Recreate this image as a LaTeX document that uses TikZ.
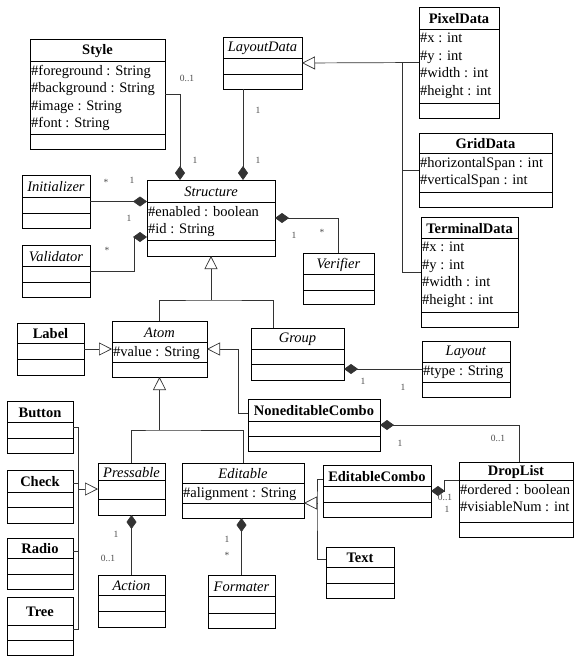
\documentclass[tikz,border=0pt]{standalone}
\usepackage{fontspec}
\setmainfont{Liberation Serif}
\usetikzlibrary{arrows.meta,calc}

\tikzset{
	classbox/.style={draw, line width=0.8pt, inner sep=0pt, outer sep=0pt},
	classtitle/.style={inner sep=0pt, yshift=-1pt, font=\fontsize{14.5}{17.5}\selectfont},
	attrtext/.style={inner xsep=1pt, inner ysep=4pt, align=left, font=\fontsize{14.5}{17.5}\selectfont},
	mult/.style={inner sep=0pt, text=black!70, font=\fontsize{9.5}{10}\selectfont},
	link/.style={draw=black!80, line width=0.7pt},
	gen/.style={link, -{Triangle[open, length=13pt, width=13pt, fill=white]}},
	comp/.style={link, -{Diamond[length=14pt, width=10pt, fill=black!80]}},
}

% class box: name, x, y, width, title/attribute/operation heights, title, attributes
\newcommand{\umlclass}[9]{%
	\node[classbox, minimum width=#4pt, minimum height={(#5+#6+#7)*1pt}, anchor=north west] (#1) at (#2,#3) {};
	\draw[line width=0.8pt] (#1.north west) ++(0,#5) -- ++(#4,0);
	\draw[line width=0.8pt] (#1.north west) ++(0,#5+#6) -- ++(#4,0);
	\node[classtitle] (#1-title) at ($(#1.north)+(0,#5/2)$) {#8};
	\node[attrtext, anchor=north west] (#1-attr) at ($(#1.north west)+(0,#5)$) {#9};
}

\begin{document}
\begin{tikzpicture}[x=1pt,y=-1pt]
	\useasboundingbox (0,0) rectangle (579,658);

	\umlclass{style}{30}{39}{135}{22}{73}{15}{\textbf{Style}}{\#foreground : String\\\#background : String\\\#image : String\\\#font : String}
	\umlclass{layoutdata}{223}{37}{79}{21}{16}{15}{\textit{LayoutData}}{}
	\umlclass{pixeldata}{419}{7}{80}{22}{74}{15}{\textbf{PixelData}}{\#x : int\\\#y : int\\\#width : int\\\#height : int}
	\umlclass{griddata}{419}{133}{133}{20}{39}{15}{\textbf{GridData}}{\#horizontalSpan : int\\\#verticalSpan : int}
	\umlclass{terminaldata}{421}{217}{97}{21}{74}{15}{\textbf{TerminalData}}{\#x : int\\\#y : int\\\#width : int\\\#height : int}
	\umlclass{structure}{147}{180}{128}{22}{38}{16}{\textit{Structure}}{\#enabled : boolean\\\#id : String}
	\umlclass{initializer}{22}{175}{68}{22}{16}{15}{\textit{Initializer}}{}
	\umlclass{validator}{22}{245}{68}{21}{16}{15}{\textit{Validator}}{}
	\umlclass{verifier}{303}{253}{71}{21}{16}{14}{\textit{Verifier}}{}
	\umlclass{atom}{112}{321}{95}{21}{20}{15}{\textit{Atom}}{\#value : String}
	\umlclass{lbl}{17}{323}{67}{20}{16}{16}{\textbf{Label}}{}
	\umlclass{group}{251}{328}{93}{21}{15}{16}{\textit{Group}}{}
	\umlclass{layout}{422}{341}{88}{21}{20}{15}{\textit{Layout}}{\#type : String}
	\umlclass{noneditable}{248}{399}{132}{22}{15}{15}{\textbf{NoneditableCombo}}{}
	\umlclass{droplist}{459}{462}{114}{18}{42}{15}{\textbf{DropList}}{\#ordered : boolean\\\#visiableNum : int}
	\umlclass{button}{7}{401}{66}{21}{16}{15}{\textbf{Button}}{}
	\umlclass{check}{7}{470}{66}{22}{15}{16}{\textbf{Check}}{}
	\umlclass{radio}{7}{538}{66}{20}{16}{15}{\textbf{Radio}}{}
	\umlclass{tree}{7}{597}{66}{28}{15}{15}{\textbf{Tree}}{}
	\umlclass{pressable}{98}{463}{67}{17}{19}{16}{\textit{Pressable}}{}
	\umlclass{editable}{182}{463}{122}{20}{20}{15}{\textit{Editable}}{\#alignment : String}
	\umlclass{editablecombo}{323}{465}{108}{21}{16}{15}{\textbf{EditableCombo}}{}
	\umlclass{txt}{326}{547}{68}{20}{16}{15}{\textbf{Text}}{}
	\umlclass{action}{98}{575}{67}{20}{16}{16}{\textit{Action}}{}
	\umlclass{formater}{208}{575}{67}{21}{17}{15}{\textit{Formater}}{}

	% Style, LayoutData -> Structure
	\coordinate (st-n1) at ($(structure.north west)+(33,0)$);
	\coordinate (st-n2) at ($(structure.north west)+(96,0)$);
	\draw[comp] (style.east) -| (st-n1);
	\draw[comp] (st-n2 |- layoutdata.south) -- (st-n2);

	% LayoutData hierarchy
	\coordinate (ldbus) at ($(pixeldata.west)+(-17,0)$);
	\draw[gen] (pixeldata.west) -- (layoutdata.east);
	\draw[link] (griddata.west) -| (ldbus);
	\draw[link] (terminaldata.west) -| (ldbus);

	% Initializer, Validator, Verifier
	\coordinate (st-w) at ($(structure.south west)+(0,-19)$);
	\draw[comp] (initializer.east) -- (initializer.east -| structure.west);
	\draw[comp] (validator.east) -- ++(44,0) |- (st-w);
	\draw[comp] (verifier.north) |- (structure.east);

	% Structure subclasses
	\coordinate (st-join) at ($(structure.south)+(0,44)$);
	\coordinate (gr-n) at ($(group.north west)+(22,0)$);
	\draw[link] (atom.north) |- (st-join) -| (gr-n);
	\draw[gen] (st-join) -- (structure.south);

	\draw[gen] (lbl.east) -- (atom.west);
	\draw[comp] (layout.west) -- (layout.west -| group.east);

	\coordinate (nc-w) at ($(noneditable.north west)+(0,14)$);
	\coordinate (dl-n) at ($(droplist.north west)+(60,0)$);
	\draw[gen] (nc-w) -- ++(-10,0) |- (atom.east);
	\draw[comp] (dl-n) |- (noneditable.east);

	% Atom subclasses
	\coordinate (at-join) at ($(atom.south)+(0,53)$);
	\draw[link] (pressable.north) |- (at-join) -| (editable.north);
	\draw[gen] (at-join) -- (atom.south);

	\draw[comp] (action.north) -- (pressable.south);
	\draw[comp] (formater.north) -- (formater.north |- editable.south);

	% Button, Check, Radio, Tree -> Pressable
	\coordinate (pbus) at ($(pressable.west)+(-20,0)$);
	\coordinate (ck-e) at ($(check.north east)+(0,13)$);
	\coordinate (rd-e) at ($(radio.north east)+(0,13)$);
	\coordinate (tr-e) at ($(tree.north east)+(0,32)$);
	\draw[link] (button.east) -| (pbus |- tr-e) -- (tr-e);
	\draw[link] (ck-e) -- (ck-e -| pbus);
	\draw[link] (rd-e) -- (rd-e -| pbus);
	\draw[gen] (pbus) -- (pressable.west);

	% EditableCombo, Text -> Editable
	\coordinate (ed-e) at ($(editable.south east)+(0,-15)$);
	\coordinate (ebus) at ($(ed-e)+(13,0)$);
	\coordinate (ec-w) at ($(editablecombo.north west)+(0,14)$);
	\coordinate (tx-w) at ($(txt.north west)+(0,12)$);
	\draw[link] (ec-w) -| (ebus) |- (tx-w);
	\draw[gen] (ebus) -- (ed-e);

	\coordinate (dl-w) at ($(droplist.north west)+(0,18)$);
	\draw[comp] (dl-w) -- ++(-15,0) |- (editablecombo.east);

	% multiplicities
	\node[mult] (m-style-a) at (187,78) {0..1};
	\node[mult] (m-style-b) at (195,160) {1};
	\node[mult] (m-ld-a) at (258,110) {1};
	\node[mult] (m-ld-b) at (258,160) {1};
	\node[mult] (m-init-a) at (106,182) {*};
	\node[mult] (m-init-b) at (132,180) {1};
	\node[mult] (m-val-a) at (129,218) {1};
	\node[mult] (m-val-b) at (107,250) {*};
	\node[mult] (m-ver-a) at (294,235) {1};
	\node[mult] (m-ver-b) at (322,232) {*};
	\node[mult] (m-lay-a) at (363,381) {1};
	\node[mult] (m-lay-b) at (403,387) {1};
	\node[mult] (m-nc-a) at (400,443) {1};
	\node[mult] (m-nc-b) at (498,438) {0..1};
	\node[mult] (m-act-a) at (116,534) {1};
	\node[mult] (m-act-b) at (108,558) {0..1};
	\node[mult] (m-fmt-a) at (227,539) {1};
	\node[mult] (m-fmt-b) at (227,555) {*};
	\node[mult] (m-ec-a) at (445,497) {0..1};
	\node[mult] (m-ec-b) at (447,509) {1};
\end{tikzpicture}
\end{document}
